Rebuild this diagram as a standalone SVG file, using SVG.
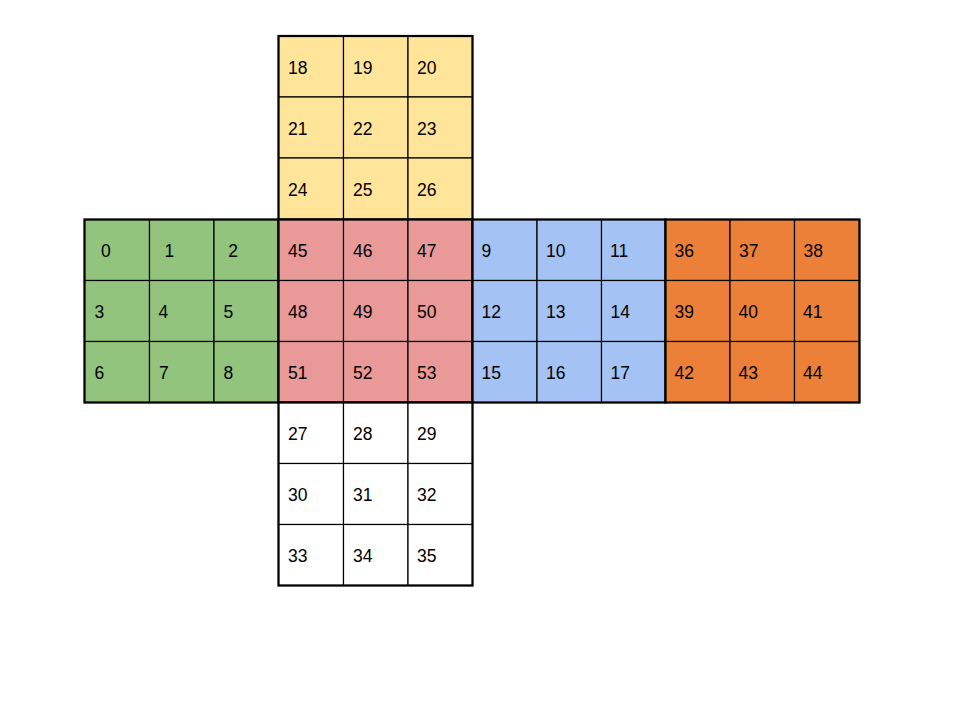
<svg xmlns="http://www.w3.org/2000/svg" width="960" height="720" viewBox="0 0 960 720">
<style>
rect.c{stroke:#000;stroke-width:1.2}
rect.f{fill:none;stroke:#000;stroke-width:2.2}
text{font-family:"Liberation Sans",Arial,sans-serif;font-size:17.5px;fill:#000}
.g{fill:#93c47d}.y{fill:#ffe599}.r{fill:#ea9999}.b{fill:#a4c2f4}.o{fill:#ed8038}.w{fill:#ffffff}
</style>
<rect width="960" height="720" fill="#fff"/>
<g id="face-top">
<g id="cell-18"><rect class="c y" x="278.5" y="36" width="65" height="61"/><text x="288" y="73.5">18</text></g>
<g id="cell-19"><rect class="c y" x="343.5" y="36" width="64.5" height="61"/><text x="353" y="73.5">19</text></g>
<g id="cell-20"><rect class="c y" x="408" y="36" width="64.5" height="61"/><text x="417" y="73.5">20</text></g>
<g id="cell-21"><rect class="c y" x="278.5" y="97" width="65" height="61"/><text x="288" y="134.5">21</text></g>
<g id="cell-22"><rect class="c y" x="343.5" y="97" width="64.5" height="61"/><text x="353" y="134.5">22</text></g>
<g id="cell-23"><rect class="c y" x="408" y="97" width="64.5" height="61"/><text x="417" y="134.5">23</text></g>
<g id="cell-24"><rect class="c y" x="278.5" y="158" width="65" height="61.5"/><text x="288" y="195.5">24</text></g>
<g id="cell-25"><rect class="c y" x="343.5" y="158" width="64.5" height="61.5"/><text x="353" y="195.5">25</text></g>
<g id="cell-26"><rect class="c y" x="408" y="158" width="64.5" height="61.5"/><text x="417" y="195.5">26</text></g>
<rect class="f" x="278.5" y="36" width="194" height="183.5"/>
</g>
<g id="face-left">
<g id="cell-0"><rect class="c g" x="84.5" y="219.5" width="65" height="61"/><text x="101" y="257">0</text></g>
<g id="cell-1"><rect class="c g" x="149.5" y="219.5" width="64.5" height="61"/><text x="164.5" y="257">1</text></g>
<g id="cell-2"><rect class="c g" x="214" y="219.5" width="64.5" height="61"/><text x="228.3" y="257">2</text></g>
<g id="cell-3"><rect class="c g" x="84.5" y="280.5" width="65" height="61"/><text x="94.5" y="318">3</text></g>
<g id="cell-4"><rect class="c g" x="149.5" y="280.5" width="64.5" height="61"/><text x="158.5" y="318">4</text></g>
<g id="cell-5"><rect class="c g" x="214" y="280.5" width="64.5" height="61"/><text x="223.5" y="318">5</text></g>
<g id="cell-6"><rect class="c g" x="84.5" y="341.5" width="65" height="61"/><text x="94.5" y="379">6</text></g>
<g id="cell-7"><rect class="c g" x="149.5" y="341.5" width="64.5" height="61"/><text x="159" y="379">7</text></g>
<g id="cell-8"><rect class="c g" x="214" y="341.5" width="64.5" height="61"/><text x="223.5" y="379">8</text></g>
<rect class="f" x="84.5" y="219.5" width="194" height="183"/>
</g>
<g id="face-front">
<g id="cell-45"><rect class="c r" x="278.5" y="219.5" width="65" height="61"/><text x="288" y="257">45</text></g>
<g id="cell-46"><rect class="c r" x="343.5" y="219.5" width="64.5" height="61"/><text x="353" y="257">46</text></g>
<g id="cell-47"><rect class="c r" x="408" y="219.5" width="64.5" height="61"/><text x="417" y="257">47</text></g>
<g id="cell-48"><rect class="c r" x="278.5" y="280.5" width="65" height="61"/><text x="288" y="318">48</text></g>
<g id="cell-49"><rect class="c r" x="343.5" y="280.5" width="64.5" height="61"/><text x="353" y="318">49</text></g>
<g id="cell-50"><rect class="c r" x="408" y="280.5" width="64.5" height="61"/><text x="417" y="318">50</text></g>
<g id="cell-51"><rect class="c r" x="278.5" y="341.5" width="65" height="61"/><text x="288" y="379">51</text></g>
<g id="cell-52"><rect class="c r" x="343.5" y="341.5" width="64.5" height="61"/><text x="353" y="379">52</text></g>
<g id="cell-53"><rect class="c r" x="408" y="341.5" width="64.5" height="61"/><text x="417" y="379">53</text></g>
<rect class="f" x="278.5" y="219.5" width="194" height="183"/>
</g>
<g id="face-right">
<g id="cell-9"><rect class="c b" x="472.5" y="219.5" width="64.5" height="61"/><text x="481.5" y="257">9</text></g>
<g id="cell-10"><rect class="c b" x="537" y="219.5" width="64.5" height="61"/><text x="546" y="257">10</text></g>
<g id="cell-11"><rect class="c b" x="601.5" y="219.5" width="64" height="61"/><text x="610" y="257">11</text></g>
<g id="cell-12"><rect class="c b" x="472.5" y="280.5" width="64.5" height="61"/><text x="481.5" y="318">12</text></g>
<g id="cell-13"><rect class="c b" x="537" y="280.5" width="64.5" height="61"/><text x="546" y="318">13</text></g>
<g id="cell-14"><rect class="c b" x="601.5" y="280.5" width="64" height="61"/><text x="610.5" y="318">14</text></g>
<g id="cell-15"><rect class="c b" x="472.5" y="341.5" width="64.5" height="61"/><text x="481.5" y="379">15</text></g>
<g id="cell-16"><rect class="c b" x="537" y="341.5" width="64.5" height="61"/><text x="546" y="379">16</text></g>
<g id="cell-17"><rect class="c b" x="601.5" y="341.5" width="64" height="61"/><text x="610.5" y="379">17</text></g>
<rect class="f" x="472.5" y="219.5" width="193" height="183"/>
</g>
<g id="face-back">
<g id="cell-36"><rect class="c o" x="665.5" y="219.5" width="64.5" height="61"/><text x="674.5" y="257">36</text></g>
<g id="cell-37"><rect class="c o" x="730" y="219.5" width="64.5" height="61"/><text x="739" y="257">37</text></g>
<g id="cell-38"><rect class="c o" x="794.5" y="219.5" width="65" height="61"/><text x="803.5" y="257">38</text></g>
<g id="cell-39"><rect class="c o" x="665.5" y="280.5" width="64.5" height="61"/><text x="674.5" y="318">39</text></g>
<g id="cell-40"><rect class="c o" x="730" y="280.5" width="64.5" height="61"/><text x="738.5" y="318">40</text></g>
<g id="cell-41"><rect class="c o" x="794.5" y="280.5" width="65" height="61"/><text x="803" y="318">41</text></g>
<g id="cell-42"><rect class="c o" x="665.5" y="341.5" width="64.5" height="61"/><text x="674.5" y="379">42</text></g>
<g id="cell-43"><rect class="c o" x="730" y="341.5" width="64.5" height="61"/><text x="738.5" y="379">43</text></g>
<g id="cell-44"><rect class="c o" x="794.5" y="341.5" width="65" height="61"/><text x="803" y="379">44</text></g>
<rect class="f" x="665.5" y="219.5" width="194" height="183"/>
</g>
<g id="face-bottom">
<g id="cell-27"><rect class="c w" x="278.5" y="402.5" width="65" height="61"/><text x="288" y="440">27</text></g>
<g id="cell-28"><rect class="c w" x="343.5" y="402.5" width="64.5" height="61"/><text x="353" y="440">28</text></g>
<g id="cell-29"><rect class="c w" x="408" y="402.5" width="64.5" height="61"/><text x="417" y="440">29</text></g>
<g id="cell-30"><rect class="c w" x="278.5" y="463.5" width="65" height="61"/><text x="288" y="501">30</text></g>
<g id="cell-31"><rect class="c w" x="343.5" y="463.5" width="64.5" height="61"/><text x="353" y="501">31</text></g>
<g id="cell-32"><rect class="c w" x="408" y="463.5" width="64.5" height="61"/><text x="417" y="501">32</text></g>
<g id="cell-33"><rect class="c w" x="278.5" y="524.5" width="65" height="61"/><text x="288" y="562">33</text></g>
<g id="cell-34"><rect class="c w" x="343.5" y="524.5" width="64.5" height="61"/><text x="353" y="562">34</text></g>
<g id="cell-35"><rect class="c w" x="408" y="524.5" width="64.5" height="61"/><text x="417" y="562">35</text></g>
<rect class="f" x="278.5" y="402.5" width="194" height="183"/>
</g>
</svg>
